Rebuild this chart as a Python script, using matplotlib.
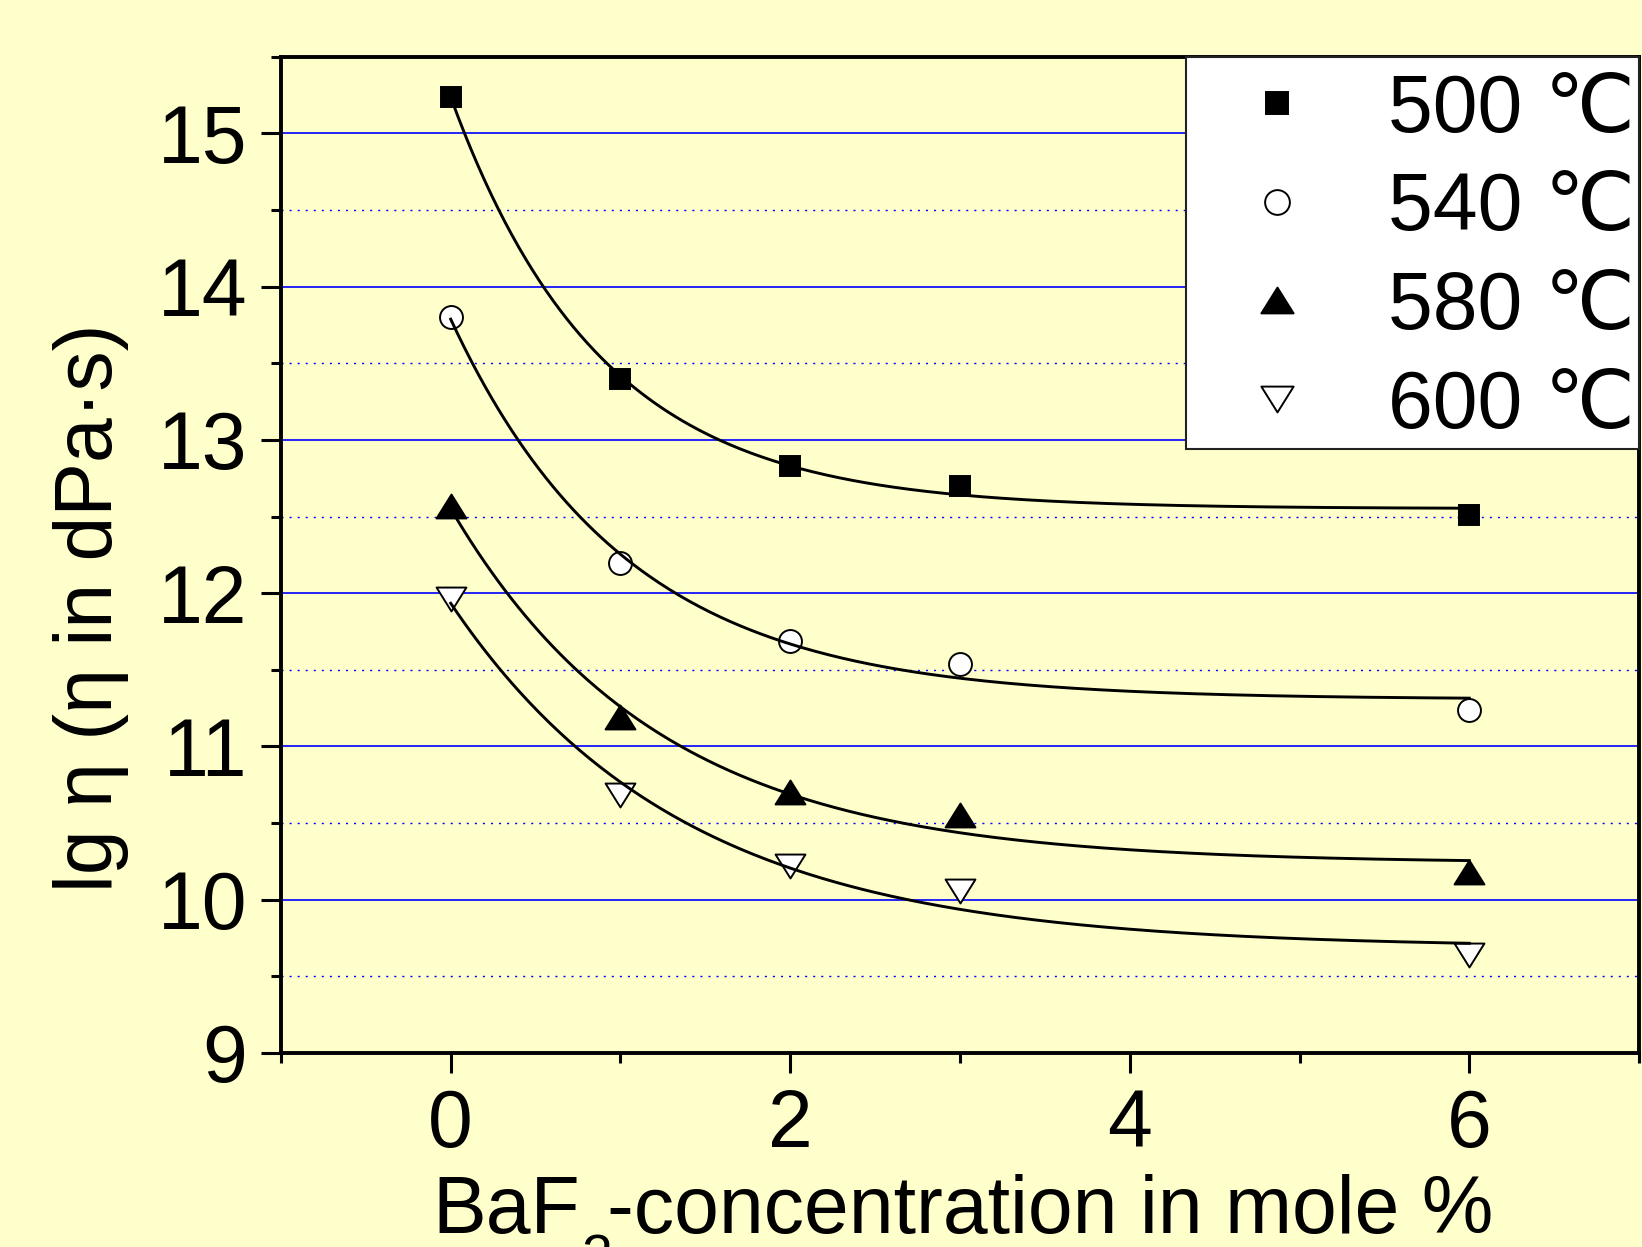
import numpy as np
import matplotlib
matplotlib.use("Agg")
import matplotlib.pyplot as plt
from matplotlib.ticker import FixedLocator
from matplotlib.path import Path
from matplotlib.legend_handler import HandlerLine2D

plt.rcParams['font.family'] = ['Liberation Sans', 'DejaVu Sans']

# ---------------- data ----------------
baf2 = [0, 1, 2, 3, 6]
eta_500 = [15.24, 13.40, 12.83, 12.70, 12.51]
eta_540 = [13.80, 12.20, 11.69, 11.54, 11.24]
eta_580 = [12.57, 11.19, 10.70, 10.55, 10.18]
eta_600 = [11.96, 10.68, 10.22, 10.06, 9.64]
labels = ["500 ℃", "540 ℃", "580 ℃", "600 ℃"]

x_ticks = [0, 2, 4, 6]
x_minor = [-1, 1, 3, 5, 7]
y_ticks = [9, 10, 11, 12, 13, 14, 15]
y_minor = [9.5, 10.5, 11.5, 12.5, 13.5, 14.5, 15.5]

BG = '#FFFFCC'
W, H = 1642, 1247

def fit_expdec(x, y):
    """First-order exponential decay fit y = y0 + A*exp(-x/t) to the data."""
    x = np.asarray(x, float)
    y = np.asarray(y, float)
    best = None
    for t in np.linspace(0.2, 5.0, 2401):
        M = np.column_stack([np.ones_like(x), np.exp(-x / t)])
        coef, *_ = np.linalg.lstsq(M, y, rcond=None)
        sse = float(np.sum((M @ coef - y) ** 2))
        if best is None or sse < best[0]:
            best = (sse, coef[0], coef[1], t)
    _, y0, A, t = best
    return lambda xx: y0 + A * np.exp(-np.asarray(xx) / t)


class CenteredHandler(HandlerLine2D):
    """Line2D legend handler whose marker is nudged down to the digit centre."""
    def __init__(self, dy=0.0, **kw):
        super().__init__(**kw)
        self.dy = dy

    def create_artists(self, legend, orig_handle, xdescent, ydescent,
                       width, height, fontsize, trans):
        arts = super().create_artists(legend, orig_handle, xdescent, ydescent,
                                      width, height, fontsize, trans)
        for a in arts:
            a.set_ydata(np.asarray(a.get_ydata()) - self.dy * fontsize)
        return arts


fig = plt.figure(figsize=(W / 100, H / 100), dpi=100, facecolor=BG)
ax = fig.add_axes([0.1711, 0.1556, 0.9982 - 0.1711, 0.9545 - 0.1556])
ax.set_facecolor(BG)

tri_up = Path([(0, 0.8), (-1, -0.8), (1, -0.8), (0, 0.8)],
              [Path.MOVETO, Path.LINETO, Path.LINETO, Path.CLOSEPOLY])
tri_dn = Path([(0, -0.8), (-1, 0.8), (1, 0.8), (0, -0.8)],
              [Path.MOVETO, Path.LINETO, Path.LINETO, Path.CLOSEPOLY])

series = [eta_500, eta_540, eta_580, eta_600]
styles = [
    dict(marker='s', ms=14.5, mfc='black'),
    dict(marker='o', ms=16.5, mfc='white'),
    dict(marker=tri_up, ms=21.5, mfc='black'),
    dict(marker=tri_dn, ms=21.5, mfc='white'),
]

xs = np.linspace(0, 6, 300)
handles = []
for yvals, st, lab in zip(series, styles, labels):
    h, = ax.plot(baf2, yvals, linestyle='none', marker=st['marker'],
                 markersize=st['ms'], markerfacecolor=st['mfc'],
                 markeredgecolor='black', markeredgewidth=1.4,
                 label=lab, zorder=3)
    handles.append(h)
    f = fit_expdec(baf2, yvals)
    ax.plot(xs, f(xs), color='black', lw=2.1, zorder=4)

# grid lines
for yv in y_ticks[1:]:
    ax.axhline(yv, color='#0000FF', lw=1.2, zorder=1)
for yv in y_minor[:-1]:
    ax.axhline(yv, color='#0000FF', lw=1.0, linestyle=(0, (1.5, 4.3)), zorder=1)

ax.set_xlim(-1, 7)
ax.set_ylim(9, 15.5)
ax.xaxis.set_major_locator(FixedLocator(x_ticks))
ax.xaxis.set_minor_locator(FixedLocator(x_minor))
ax.yaxis.set_major_locator(FixedLocator(y_ticks))
ax.yaxis.set_minor_locator(FixedLocator(y_minor))

ax.tick_params(axis='both', which='major', direction='out', length=14.4,
               width=2.2, labelsize=58, color='black')
ax.tick_params(axis='both', which='minor', direction='out', length=7.2,
               width=2.2, color='black')
ax.tick_params(axis='x', which='major', pad=11)
ax.tick_params(axis='y', which='major', pad=10)
for sp in ax.spines.values():
    sp.set_linewidth(2.8)
    sp.set_color('black')

hmap = {h: CenteredHandler(dy=0.082) for h in handles}
leg = ax.legend(handles=handles, labels=labels, handler_map=hmap,
                loc='upper right', bbox_to_anchor=(1.0, 1.0), borderaxespad=0,
                fontsize=58, frameon=True, fancybox=False, framealpha=1,
                facecolor='white', edgecolor='#222222', borderpad=0.05,
                labelspacing=0.135, handlelength=2.16, handleheight=1.3,
                handletextpad=0.3, markerscale=1.08)
leg.get_frame().set_linewidth(1.5)
leg.set_zorder(6)

# x label: "BaF" + lowered subscript "2" + rest
renderer = fig.canvas.get_renderer()
base_y = (H - 1233) / H
t1 = fig.text(432 / W, base_y, "BaF", ha='left', va='baseline', fontsize=58)
bb1 = t1.get_window_extent(renderer)
t2 = fig.text((bb1.x1 + 1) / W, base_y - 40 / H, "2", ha='left',
              va='baseline', fontsize=40)
bb2 = t2.get_window_extent(renderer)
fig.text((bb2.x1 - 5) / W, base_y, "-concentration in mole %", ha='left',
         va='baseline', fontsize=58)

fig.text(112 / W, (H - 608) / H, "lg η (η in dPa·s)",
         rotation=90, rotation_mode='anchor', ha='center', va='baseline',
         fontsize=58)

fig.savefig("out.png", dpi=100, facecolor=BG)
